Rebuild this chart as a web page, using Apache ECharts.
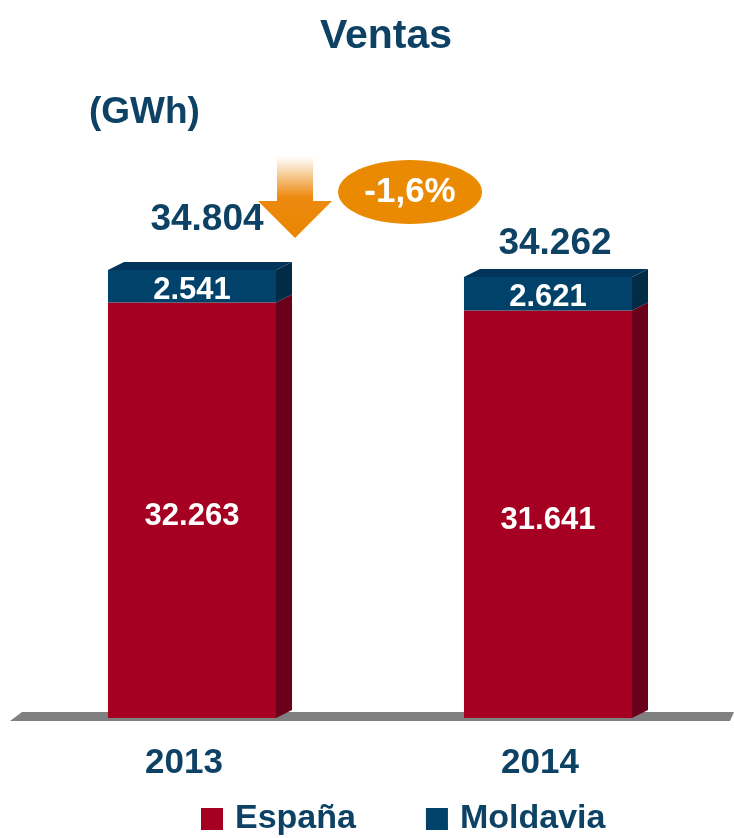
<!DOCTYPE html>
<html>
<head>
<meta charset="utf-8">
<script src="https://cdn.jsdelivr.net/npm/echarts@6/dist/echarts.min.js"></script>
<style>
html,body{margin:0;padding:0;background:#fff;}
#chart{width:734px;height:838px;}
</style>
</head>
<body>
<div id="chart"></div>
<script>
// ---- data ----
const categories = ['2013', '2014'];
const espana = [32263, 31641];
const moldavia = [2541, 2621];
const totals = [34804, 34262];
const changeLabel = '-1,6%';

// ---- styling / layout constants ----
const FONT = '"Liberation Sans", Arial, sans-serif';
const TXT = '#0D4265';
const RED = '#A50021', RED_SIDE = '#6A0019';
const BLUE = '#00426A', BLUE_SIDE = '#012B47', BLUE_TOP = '#01345A';
const DX = 16, DY = -8;           // 3D depth
const BAR_RATIO = 0.472;          // bar width / band width
const totalGap = [50, 33];        // label distance above bar top
const totalShift = [15, 7];       // label horizontal shift

function fmt(v) { return String(v).replace(/\B(?=(\d{3})+(?!\d))/g, '.'); }

function renderEspana(params, api) {
  const i = api.value(0);
  const base = api.coord([i, 0]);
  const top = api.coord([i, api.value(1)]);
  const w = api.size([1, 0])[0] * BAR_RATIO;
  const x0 = base[0] - w / 2, x1 = base[0] + w / 2;
  return {
    type: 'group',
    children: [
      { type: 'polygon', shape: { points: [[x1, base[1]], [x1 + DX, base[1] + DY], [x1 + DX, top[1] + DY], [x1, top[1]]] }, style: { fill: RED_SIDE } },
      { type: 'rect', shape: { x: x0, y: top[1], width: w, height: base[1] - top[1] }, style: { fill: RED } },
      { type: 'text', x: base[0], y: (base[1] + top[1]) / 2 + 6, style: { text: fmt(api.value(1)), fill: '#fff', font: 'bold 31px ' + FONT, align: 'center', verticalAlign: 'middle' } }
    ]
  };
}

function renderMoldavia(params, api) {
  const i = api.value(0);
  const start = api.value(1), val = api.value(2);
  const b = api.coord([i, start]);
  const t = api.coord([i, start + val]);
  const w = api.size([1, 0])[0] * BAR_RATIO;
  const x0 = b[0] - w / 2, x1 = b[0] + w / 2;
  return {
    type: 'group',
    children: [
      { type: 'polygon', shape: { points: [[x1, b[1]], [x1 + DX, b[1] + DY], [x1 + DX, t[1] + DY], [x1, t[1]]] }, style: { fill: BLUE_SIDE } },
      { type: 'polygon', shape: { points: [[x0, t[1]], [x0 + DX, t[1] + DY], [x1 + DX, t[1] + DY], [x1, t[1]]] }, style: { fill: BLUE_TOP } },
      { type: 'rect', shape: { x: x0, y: t[1], width: w, height: b[1] - t[1] }, style: { fill: BLUE } },
      { type: 'text', x: b[0], y: (b[1] + t[1]) / 2 + 4, style: { text: fmt(val), fill: '#fff', font: 'bold 31px ' + FONT, align: 'center', verticalAlign: 'middle' } },
      { type: 'text', x: b[0] + totalShift[i], y: t[1] - totalGap[i], style: { text: fmt(totals[i]), fill: TXT, font: 'bold 37px ' + FONT, align: 'center', verticalAlign: 'middle' } }
    ]
  };
}

const chart = echarts.init(document.getElementById('chart'), null, { renderer: 'canvas' });
chart.setOption({
  animation: false,
  backgroundColor: '#ffffff',
  title: [
    { text: 'Ventas', left: 381, top: 11, textAlign: 'center', textStyle: { fontFamily: FONT, fontWeight: 'bold', fontSize: 41, color: TXT } },
    { text: '(GWh)', left: 84, top: 89, textStyle: { fontFamily: FONT, fontWeight: 'bold', fontSize: 37, color: TXT } }
  ],
  legend: {
    left: 196, top: 797,
    itemWidth: 22, itemHeight: 22, itemGap: 70, icon: 'rect',
    textStyle: { fontFamily: FONT, fontWeight: 'bold', fontSize: 34, lineHeight: 26, color: TXT, padding: [5, 0, 0, 7] },
    data: ['España', 'Moldavia']
  },
  grid: { left: 14, width: 712, top: 203, bottom: 120 },
  xAxis: {
    type: 'category', data: categories,
    axisLine: { show: false }, axisTick: { show: false },
    axisLabel: { margin: 28, padding: [0, 16, 0, 0], fontFamily: FONT, fontWeight: 'bold', fontSize: 35, color: TXT }
  },
  yAxis: { type: 'value', min: 0, max: 40000, show: false, splitLine: { show: false } },
  graphic: [
    { type: 'polygon', z: 0, shape: { points: [[10, 721], [22, 712], [734, 712], [730, 721]] }, style: { fill: '#808080' } },
    { type: 'polygon', z: 10, shape: { points: [[277, 156], [313, 156], [313, 201], [332, 201], [295, 238], [258, 201], [277, 201]] },
      style: { fill: new echarts.graphic.LinearGradient(0, 0, 0, 1, [
        { offset: 0, color: '#ffffff' }, { offset: 0.12, color: '#FBE6CC' }, { offset: 0.5, color: '#EC8A10' }, { offset: 1, color: '#EA8500' }]) } },
    { type: 'ellipse', z: 10, shape: { cx: 410, cy: 192, rx: 72, ry: 32 }, style: { fill: '#EA8A00' } },
    { type: 'text', z: 11, x: 410, y: 192, style: { text: changeLabel, fill: '#fff', font: 'bold 35px ' + FONT, align: 'center', verticalAlign: 'middle' } }
  ],
  series: [
    { name: 'España', type: 'custom', itemStyle: { color: RED }, renderItem: renderEspana,
      encode: { x: 0, y: 1 }, data: categories.map((c, i) => [i, espana[i]]) },
    { name: 'Moldavia', type: 'custom', itemStyle: { color: BLUE }, renderItem: renderMoldavia,
      encode: { x: 0, y: [1, 2] }, data: categories.map((c, i) => [i, espana[i], moldavia[i]]) }
  ]
});
</script>
</body>
</html>
